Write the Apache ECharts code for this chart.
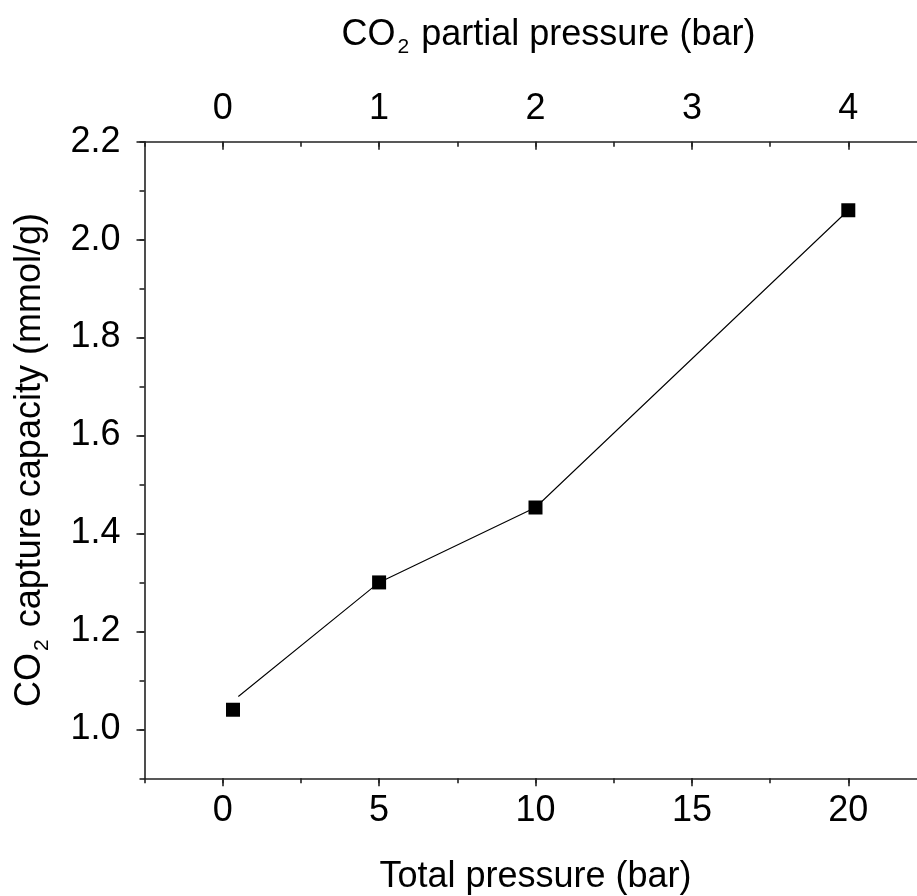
<!DOCTYPE html>
<html>
<head>
<meta charset="utf-8">
<script src="https://cdn.jsdelivr.net/npm/echarts@6/dist/echarts.min.js"></script>
<style>
  html, body { margin: 0; padding: 0; background: #fff; }
  #chart { width: 917px; height: 896px; }
</style>
</head>
<body>
<div id="chart"></div>
<script>
// bottom axis: total pressure (bar), top axis: CO2 partial pressure (bar)
const totalTicks = [0, 5, 10, 15, 20];
const partialTicks = [0, 1, 2, 3, 4];
const capacityTicks = [1.0, 1.2, 1.4, 1.6, 1.8, 2.0, 2.2];

// measured points (markers)
const pointX = [0.33, 5, 10, 20];
const pointY = [1.04, 1.30, 1.453, 2.06];

// connecting line as drawn in the figure (first end sits a bit off the marker)
const lineX = [0.5, 5, 10, 20];
const lineY = [1.067, 1.30, 1.453, 2.06];

const FONT = "'Liberation Sans', Arial, sans-serif";
const AXIS_COLOR = "#222";

let chart = echarts.init(document.getElementById("chart"));

function baseAxis(extra) {
    return Object.assign({
        type: "value",
        scale: true,
        splitLine: { show: false },
        axisLine: { show: true, onZero: false, lineStyle: { color: AXIS_COLOR, width: 1.6 } },
        axisTick: { show: true, length: 8, lineStyle: { color: AXIS_COLOR, width: 1.6 } },
        axisLabel: { color: "#000", fontFamily: FONT, fontSize: 36 },
        nameTextStyle: { color: "#000", fontFamily: FONT, fontSize: 36 }
    }, extra);
}

// short ticks only
function minorAxis(extra) {
    return Object.assign({
        type: "value",
        splitLine: { show: false },
        axisLine: { show: false, onZero: false },
        axisLabel: { show: false },
        axisTick: { show: true, length: 5, lineStyle: { color: AXIS_COLOR, width: 1.6 } }
    }, extra);
}

const subRich = {
    a: { fontFamily: FONT, fontSize: 36, color: "#000" },
    sub: { fontFamily: FONT, fontSize: 21, color: "#000", padding: [24, 2, 0, 2] }
};

let option = {
    backgroundColor: "#fff",
    animation: false,
    grid: {
        left: 144.5,
        top: 141.7,
        right: -9.5,
        bottom: 117.7,
        containLabel: false,
        outerBoundsMode: "none"
    },
    xAxis: [
        baseAxis({
            position: "bottom",
            min: -2.5,
            max: 22.5,
            name: "Total pressure (bar)",
            nameLocation: "middle",
            nameGap: 81,
            axisTick: { show: true, length: 8, customValues: totalTicks, lineStyle: { color: AXIS_COLOR, width: 1.6 } },
            axisLabel: { color: "#000", fontFamily: FONT, fontSize: 36, margin: 15, customValues: totalTicks }
        }),
        minorAxis({ position: "bottom", min: -2.5, max: 22.5, interval: 2.5 }),
        baseAxis({
            position: "top",
            min: -0.5,
            max: 4.5,
            name: "{a|CO}{sub|2}{a| partial pressure (bar)}",
            nameLocation: "middle",
            nameGap: 84,
            nameTextStyle: {
                color: "#000",
                fontFamily: FONT,
                fontSize: 36,
                padding: [0, 0, 0, 26],
                rich: subRich
            },
            axisTick: { show: true, inside: true, length: 8, customValues: partialTicks, lineStyle: { color: AXIS_COLOR, width: 1.6 } },
            axisLabel: { color: "#000", fontFamily: FONT, fontSize: 36, margin: 15, customValues: partialTicks }
        }),
        minorAxis({ position: "top", min: -0.5, max: 4.5, interval: 0.5, axisTick: { show: true, inside: true, length: 5, lineStyle: { color: AXIS_COLOR, width: 1.6 } } })
    ],
    yAxis: [
        baseAxis({
            position: "left",
            min: 0.9,
            max: 2.2,
            name: "{a|CO}{sub|2}{a| capture capacity (mmol/g)}",
            nameLocation: "middle",
            nameGap: 92,
            nameTextStyle: {
                color: "#000",
                fontFamily: FONT,
                fontSize: 36,
                rich: subRich
            },
            axisTick: { show: true, length: 8, customValues: capacityTicks, lineStyle: { color: AXIS_COLOR, width: 1.6 } },
            axisLabel: {
                color: "#000", fontFamily: FONT, fontSize: 36, margin: 24,
                customValues: capacityTicks,
                formatter: v => v.toFixed(1)
            }
        }),
        minorAxis({ position: "left", min: 0.9, max: 2.2, interval: 0.1 })
    ],
    series: [
        {
            type: "line",
            xAxisIndex: 0,
            yAxisIndex: 0,
            data: lineX.map((x, i) => [x, lineY[i]]),
            showSymbol: false,
            symbol: "none",
            lineStyle: { color: "#000", width: 1.1 },
            silent: true
        },
        {
            type: "scatter",
            xAxisIndex: 0,
            yAxisIndex: 0,
            data: pointX.map((x, i) => [x, pointY[i]]),
            symbol: "rect",
            symbolSize: 14,
            itemStyle: { color: "#000", opacity: 1 },
            silent: true
        }
    ]
};

chart.setOption(option);
</script>
</body>
</html>
